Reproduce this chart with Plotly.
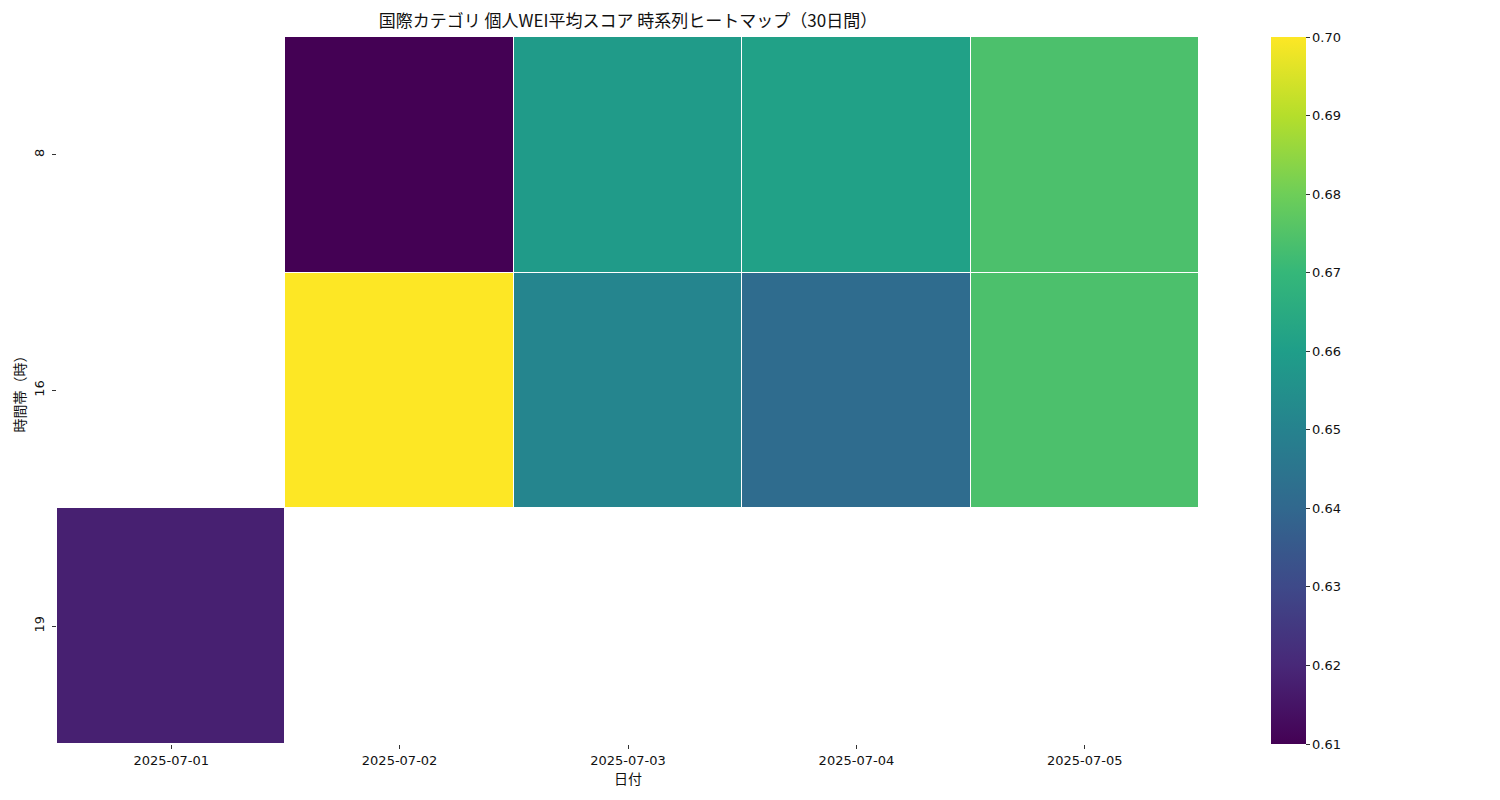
import plotly.graph_objects as go

dates = ["2025-07-01", "2025-07-02", "2025-07-03", "2025-07-04", "2025-07-05"]
hours = ["8", "16", "19"]
row_8 = [None, 0.610, 0.659, 0.661, 0.674]
row_16 = [None, 0.700, 0.651, 0.6415, 0.674]
row_19 = [0.618, None, None, None, None]
z = [row_8, row_16, row_19]

CJK = "Noto Sans CJK JP"
TICKF = "DejaVu Sans, Noto Sans CJK JP"
TXT = "#111"

fig = go.Figure(go.Heatmap(
    x=dates, y=hours, z=z,
    colorscale="Viridis", zmin=0.61, zmax=0.70,
    xgap=1, ygap=1, hoverongaps=False,
    colorbar=dict(
        x=(1271 - 57) / 1142, xanchor="left", xref="paper", xpad=0,
        y=0.5, yanchor="middle", len=1.0, lenmode="fraction", ypad=0,
        thickness=35, outlinewidth=0,
        ticks="outside", ticklen=4, tickwidth=1, tickcolor="#333",
        tickvals=[0.61, 0.62, 0.63, 0.64, 0.65, 0.66, 0.67, 0.68, 0.69, 0.70],
        ticktext=["0.61", "0.62", "0.63", "0.64", "0.65", "0.66", "0.67", "0.68", "0.69", "0.70"],
        tickfont=dict(family=TICKF, size=13, color=TXT),
    ),
))

fig.update_layout(
    width=1500, height=800,
    margin=dict(l=49, r=309, t=29, b=64),
    paper_bgcolor="white", plot_bgcolor="white",
    title=dict(text="国際カテゴリ 個人WEI平均スコア 時系列ヒートマップ（30日間）",
               x=(49 + 1191) / 2 / 1500, xanchor="center", y=1 - 13 / 800, yanchor="middle",
               font=dict(family=CJK, size=17, color=TXT)),
    font=dict(family=CJK, color=TXT),
)
fig.update_xaxes(
    type="category", showgrid=False, zeroline=False, showline=False,
    ticks="outside", ticklen=4, tickcolor="#333",
    tickfont=dict(family=TICKF, size=13, color=TXT),
    title=dict(text="日付", font=dict(family=CJK, size=14, color=TXT), standoff=4),
)
fig.update_yaxes(
    type="category", autorange="reversed", showgrid=False, zeroline=False, showline=False,
    ticks="outside", ticklen=4, tickcolor="#333", tickangle=-90, ticklabelstandoff=3,
    tickfont=dict(family=TICKF, size=13, color=TXT),
    title=dict(text="時間帯（時）", font=dict(family=CJK, size=14, color=TXT), standoff=2),
)

fig.write_html("out.html")
